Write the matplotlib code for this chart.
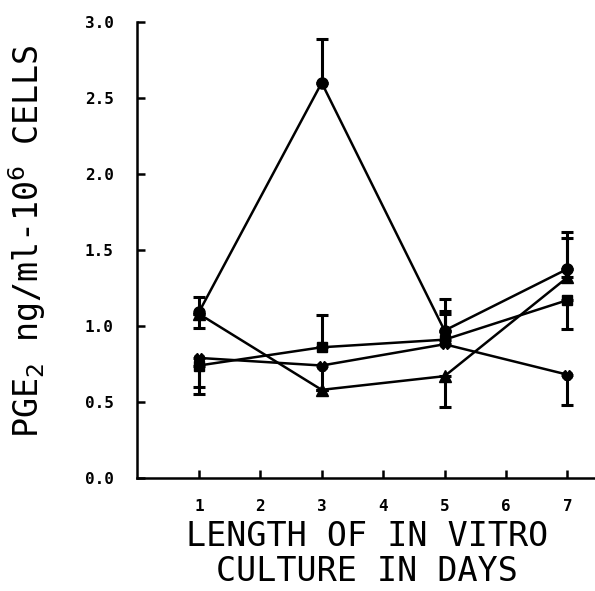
import matplotlib
matplotlib.use("Agg")
import matplotlib.pyplot as plt
import numpy as np

days = [1, 3, 5, 7]

circle_vals = [1.09, 2.60, 0.97, 1.375]
circle_err_lo = [0.10, 0.0, 0.0, 0.0]
circle_err_hi = [0.10, 0.29, 0.21, 0.245]

triangle_vals = [1.08, 0.58, 0.67, 1.32]
triangle_err_lo = [0.0, 0.0, 0.20, 0.0]
triangle_err_hi = [0.0, 0.0, 0.0, 0.26]

square_vals = [0.74, 0.86, 0.91, 1.17]
square_err_lo = [0.14, 0.0, 0.0, 0.19]
square_err_hi = [0.0, 0.21, 0.19, 0.0]

x_vals = [0.79, 0.74, 0.88, 0.68]
x_err_lo = [0.24, 0.16, 0.0, 0.20]
x_err_hi = [0.0, 0.0, 0.20, 0.0]

x_ticks = [1, 2, 3, 4, 5, 6, 7]
y_ticks = [0.0, 0.5, 1.0, 1.5, 2.0, 2.5, 3.0]
y_tick_labels = ["0.0", "0.5", "1.0", "1.5", "2.0", "2.5", "3.0"]

fig = plt.figure(figsize=(5.95, 5.91), dpi=100)
ax = fig.add_axes([0.231, 0.1912, 0.769, 0.7716])

series = [
    (circle_vals, circle_err_lo, circle_err_hi, "o", 8),
    (triangle_vals, triangle_err_lo, triangle_err_hi, "^", 8),
    (square_vals, square_err_lo, square_err_hi, "s", 7),
    (x_vals, x_err_lo, x_err_hi, "X", 7),
]
for vals, lo, hi, m, ms in series:
    ax.errorbar(days, vals, yerr=[lo, hi], color="black", marker=m,
                markersize=ms, linewidth=1.8, elinewidth=2.2, capsize=4,
                capthick=2.2, clip_on=False)

ax.set_xlim(0, 7.45)
ax.set_ylim(0, 3.0)
ax.spines["top"].set_visible(False)
ax.spines["right"].set_visible(False)
ax.spines["left"].set_linewidth(1.8)
ax.spines["bottom"].set_linewidth(1.8)
ax.set_xticks(x_ticks)
ax.set_xticklabels([str(t) for t in x_ticks])
ax.set_yticks(y_ticks)
ax.set_yticklabels(y_tick_labels)
ax.tick_params(axis="x", direction="in", length=6, width=1.8, pad=15)
ax.tick_params(axis="y", direction="in", length=6, width=1.8, pad=17)
for lab in ax.get_xticklabels() + ax.get_yticklabels():
    lab.set_fontfamily("DejaVu Sans Mono")
    lab.set_fontweight("bold")
    lab.set_fontsize(11.5)

lab_font = dict(fontsize=24, family="DejaVu Sans Mono", fontweight="normal")
fig.text(0.617, 0.092, "LENGTH OF IN VITRO", ha="center", va="center", **lab_font)
fig.text(0.617, 0.033, "CULTURE IN DAYS", ha="center", va="center", **lab_font)
fig.text(0.045, 0.592, r"PGE$_2$ ng/ml-10$^6$ CELLS", ha="center", va="center",
         rotation=90, **lab_font)

fig.savefig("out.png", dpi=100)
